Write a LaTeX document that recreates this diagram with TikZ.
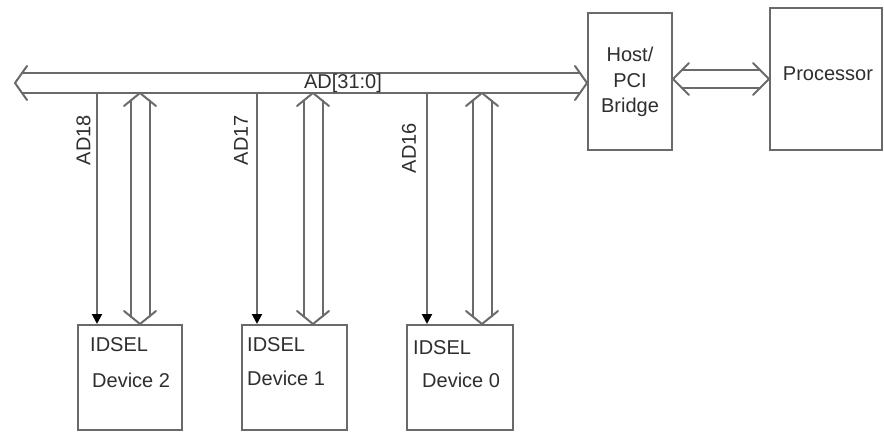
\documentclass[tikz,border=0pt]{standalone}
\usepackage{fontspec}
\setmainfont{Liberation Sans}
\usetikzlibrary{calc,arrows.meta}

\definecolor{linegray}{HTML}{6A6A6A}
\definecolor{textgray}{HTML}{2E2E2E}

\tikzset{
  wire/.style={draw=linegray, line width=2pt, line cap=round, line join=round},
  box/.style={draw=linegray, line width=2pt, inner sep=0pt, fill=white},
  lbl/.style={font=\fontsize{20}{24}\selectfont, text=textgray, inner sep=0pt},
  sel/.style={draw=linegray, line width=2pt,
    -{Triangle[width=10pt,length=10pt,color=black,fill=black]}},
}

% Hollow double-headed bus arrow between two named points:
% #1,#2 end points, #3 half shaft width, #4 head length, #5 head half width
\newcommand\openarrow[5]{%
  \pgfmathsetmacro\oaS{#4*#3/#5}%
  \draw[wire] ($(#1)!#4pt!(#2)!#5pt!90:(#2)$) -- (#1) -- ($(#1)!#4pt!(#2)!#5pt!-90:(#2)$);
  \draw[wire] ($(#2)!#4pt!(#1)!#5pt!90:(#1)$) -- (#2) -- ($(#2)!#4pt!(#1)!#5pt!-90:(#1)$);
  \draw[wire] ($(#1)!\oaS pt!(#2)!#3pt!90:(#2)$) -- ($(#2)!\oaS pt!(#1)!#3pt!-90:(#1)$);
  \draw[wire] ($(#1)!\oaS pt!(#2)!#3pt!-90:(#2)$) -- ($(#2)!\oaS pt!(#1)!#3pt!90:(#1)$);
}

\begin{document}
\begin{tikzpicture}[x=1pt,y=-1pt]
\useasboundingbox (0,0) rectangle (884,441);

% host bridge and processor
\node[box, minimum width=84pt, minimum height=137pt] (bridge) at (630,81.5) {};
\node[box, minimum width=112pt, minimum height=142pt] (proc) at (826,79) {};
\node[lbl] (hostA) at (630,54) {Host/};
\node[lbl] (hostB) at (630,80.5) {PCI};
\node[lbl] (hostC) at (630,107) {\vphantom{H}Bridge};
\node[lbl] (proct) at (828,74) {Processor};

% PCI devices
\node[box, minimum width=104pt, minimum height=105pt] (dev2) at (130,377.5) {};
\node[box, minimum width=105pt, minimum height=105pt] (dev1) at (294.5,377.5) {};
\node[box, minimum width=106pt, minimum height=105pt] (dev0) at (460,377.5) {};

\node[lbl, anchor=west] (id2) at (90,345) {IDSEL};
\node[lbl, anchor=west] (dn2) at (92,380) {Device 2};
\node[lbl, anchor=west] (id1) at (247,345) {IDSEL};
\node[lbl, anchor=west] (dn1) at (247,378) {Device 1};
\node[lbl, anchor=west] (id0) at (413,348) {IDSEL};
\node[lbl, anchor=west] (dn0) at (422,380) {Device 0};

% AD[31:0] bus
\coordinate (busL) at (15,83);
\coordinate (busR) at (bridge.west |- busL);
\openarrow{busL}{busR}{10}{12}{17}
\node[lbl] (busname) at (343,83) {AD[31:0]};

% bridge to processor
\coordinate (brR) at (bridge.east |- proc.west);
\openarrow{brR}{proc.west}{9}{16}{16}

% per-device data paths
\coordinate (tap2) at (140,93);
\coordinate (tap1) at (313,93);
\coordinate (tap0) at (482,93);
\coordinate (in2) at (dev2.north -| tap2);
\coordinate (in1) at (dev1.north -| tap1);
\coordinate (in0) at (dev0.north -| tap0);
\openarrow{tap2}{in2}{9.5}{13}{16}
\openarrow{tap1}{in1}{9.5}{13}{16}
\openarrow{tap0}{in0}{9.5}{13}{16}

% IDSEL lines
\coordinate (sel2) at (97,93);
\coordinate (sel1) at (257,94);
\coordinate (sel0) at (427,93);
\draw[sel] (sel2) -- (dev2.north -| sel2);
\draw[sel] (sel1) -- (dev1.north -| sel1);
\draw[sel] (sel0) -- (dev0.north -| sel0);
\node[lbl, rotate=90] (ad18) at (83.5,140) {AD18};
\node[lbl, rotate=90] (ad17) at (241,140) {AD17};
\node[lbl, rotate=90] (ad16) at (409,148) {AD16};
\end{tikzpicture}
\end{document}
